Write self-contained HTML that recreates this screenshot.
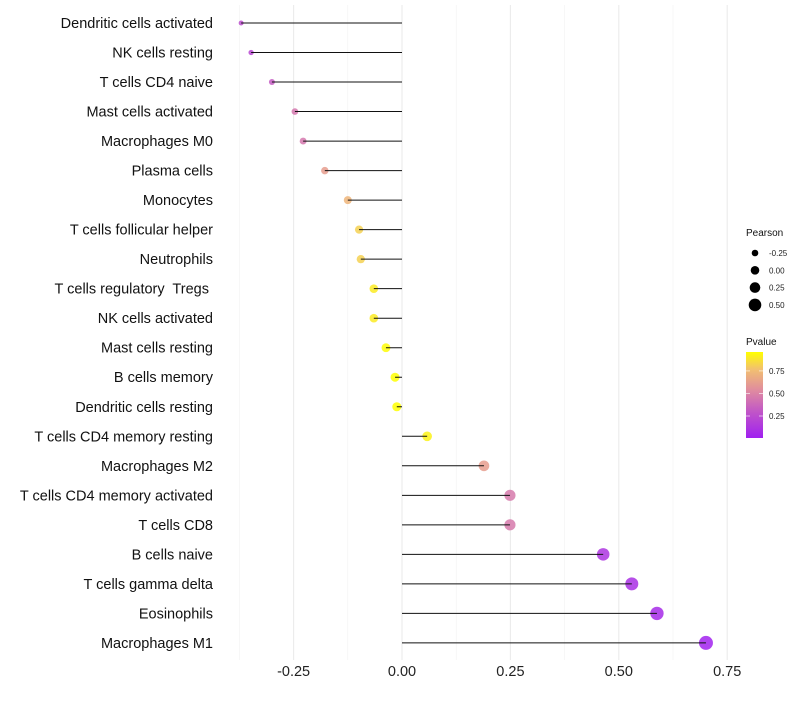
<!DOCTYPE html>
<html><head><meta charset="utf-8"><style>
body{margin:0;background:#fff;font-family:"Liberation Sans",sans-serif}
text{white-space:pre}
</style></head><body>
<svg id="c" width="800" height="700" style="font-family:'Liberation Sans',sans-serif">
<defs><linearGradient id="pg" x1="0" y1="1" x2="0" y2="0">
<stop offset="0" stop-color="#a020f0"/><stop offset="0.3" stop-color="#c055c8"/><stop offset="0.55" stop-color="#df8aa0"/><stop offset="0.8" stop-color="#f2c070"/><stop offset="1" stop-color="#ffff00"/></linearGradient></defs>
</svg>
<script>
const categories=["Dendritic cells activated","NK cells resting","T cells CD4 naive","Mast cells activated","Macrophages M0","Plasma cells","Monocytes","T cells follicular helper","Neutrophils","T cells regulatory  Tregs ","NK cells activated","Mast cells resting","B cells memory","Dendritic cells resting","T cells CD4 memory resting","Macrophages M2","T cells CD4 memory activated","T cells CD8","B cells naive","T cells gamma delta","Eosinophils","Macrophages M1"];
const pearson=[-0.371,-0.348,-0.300,-0.247,-0.228,-0.178,-0.125,-0.099,-0.095,-0.065,-0.065,-0.037,-0.016,-0.012,0.058,0.189,0.249,0.249,0.464,0.530,0.588,0.701];
const pvalue=[0.25,0.22,0.32,0.45,0.45,0.62,0.72,0.82,0.82,0.9,0.9,0.95,0.96,0.96,0.92,0.62,0.46,0.46,0.12,0.09,0.06,0.02];
const xTicks=[-0.25,0,0.25,0.5,0.75];
const xTickLabels=["-0.25","0.00","0.25","0.50","0.75"];
const sizeLegend=[-0.25,0,0.25,0.5];
const sizeLegendLabels=["-0.25","0.00","0.25","0.50"];
const pTicks=[0.25,0.5,0.75];
const pTickLabels=["0.25","0.50","0.75"];
const svg=document.getElementById('c');const NS='http://www.w3.org/2000/svg';
function mk(t,a,p){const e=document.createElementNS(NS,t);for(const k in a)e.setAttribute(k,a[k]);(p||svg).appendChild(e);return e;}
const X=v=>402+v*433.6;
const Y=i=>23+i*29.52;
const R=v=>Math.sqrt(Math.max(2.25,21+40*v));
function lerp(a,b,t){return a.map((x,i)=>Math.round(x+(b[i]-x)*t));}
const stops=[[0,[160,32,240]],[0.3,[192,85,200]],[0.55,[223,138,160]],[0.8,[242,192,112]],[1,[255,255,0]]];
function col(p){const t=Math.min(1,Math.max(0,(p-0.006)/(0.96-0.006)));for(let i=1;i<stops.length;i++){if(t<=stops[i][0]){const f=(t-stops[i-1][0])/(stops[i][0]-stops[i-1][0]);const c=lerp(stops[i-1][1],stops[i][1],f);return `rgb(${c})`;}}return 'rgb(255,255,0)';}
[-0.375,-0.125,0.125,0.375,0.625].forEach(v=>{const l=mk('line',{x1:X(v),x2:X(v),y1:5,y2:660,stroke:'#f2f2f2','stroke-width':0.6});

});
xTicks.forEach((v,i)=>{const l=mk('line',{x1:X(v),x2:X(v),y1:5,y2:660,stroke:'#ebebeb','stroke-width':1.1});


const t=mk('text',{x:X(v),y:676,'text-anchor':'middle','font-size':14.5,fill:'#222'});t.textContent=xTickLabels[i];

});
categories.forEach((c,i)=>{const y=Y(i);
const t=mk('text',{x:213,y:y+5,'text-anchor':'end','font-size':14.5,fill:'#111'});t.textContent=c;


const d=mk('circle',{cx:X(pearson[i]),cy:y,r:R(pearson[i]),fill:col(pvalue[i]),'fill-opacity':0.85});


const l=mk('line',{x1:X(0),x2:X(pearson[i]),y1:y,y2:y,stroke:'#111','stroke-width':1});

});
let t=mk('text',{x:746,y:236,'font-size':10,fill:'#111'});t.textContent='Pearson';


const LR=v=>4+v*4;
sizeLegend.forEach((v,i)=>{const y=253+i*17.3;const c=mk('circle',{cx:755,cy:y,r:LR(v)+0.3,fill:'#000'});


const s=mk('text',{x:769,y:y+3,'font-size':8,fill:'#222'});s.textContent=sizeLegendLabels[i];

});
t=mk('text',{x:746,y:345,'font-size':10,fill:'#111'});t.textContent='Pvalue';


const bar=mk('rect',{x:746,y:352,width:17,height:86,fill:'url(#pg)'});


const PY=p=>438-(p-0.006)/(0.96-0.006)*86;
pTicks.forEach((p,i)=>{mk('line',{x1:746,x2:750,y1:PY(p),y2:PY(p),stroke:'#fff','stroke-width':0.6});mk('line',{x1:759,x2:763,y1:PY(p),y2:PY(p),stroke:'#fff','stroke-width':0.6});
const s=mk('text',{x:769,y:PY(p)+3,'font-size':8,fill:'#222'});s.textContent=pTickLabels[i];

});
</script>
</body></html>
